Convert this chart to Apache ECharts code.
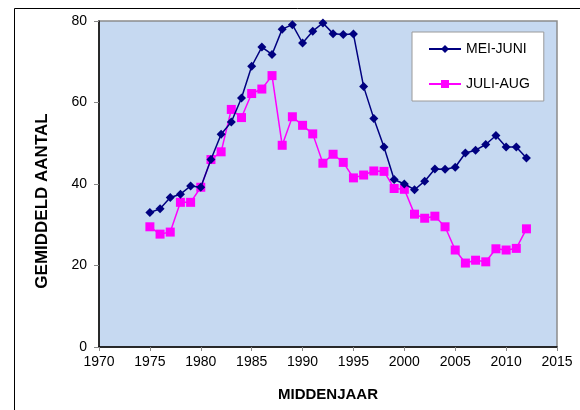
<!DOCTYPE html>
<html>
<head>
<meta charset="utf-8">
<script src="https://cdn.jsdelivr.net/npm/echarts@6/dist/echarts.min.js"></script>
<style>
html,body{margin:0;padding:0;background:#fff;}
#c{width:580px;height:410px;}
</style>
</head>
<body>
<div id="c"></div>
<script>
var years = [1975,1976,1977,1978,1979,1980,1981,1982,1983,1984,1985,1986,1987,1988,1989,1990,1991,1992,1993,1994,1995,1996,1997,1998,1999,2000,2001,2002,2003,2004,2005,2006,2007,2008,2009,2010,2011,2012];
var meiJuni = [33.0,33.9,36.7,37.5,39.5,39.2,46.0,52.2,55.2,61.1,68.9,73.6,71.8,78.0,79.1,74.6,77.5,79.5,76.9,76.7,76.8,63.9,56.1,49.1,41.1,40.0,38.6,40.7,43.7,43.6,44.1,47.6,48.3,49.7,51.9,49.1,49.1,46.4];
var juliAug = [29.5,27.7,28.2,35.5,35.5,39.2,46.0,47.9,58.3,56.3,62.2,63.3,66.6,49.5,56.5,54.4,52.3,45.1,47.3,45.3,41.5,42.2,43.2,43.1,38.9,38.7,32.6,31.6,32.1,29.5,23.8,20.6,21.3,20.9,24.1,23.8,24.2,29.0];
var xTicks = [1970,1975,1980,1985,1990,1995,2000,2005,2010,2015];
var yTicks = [0,20,40,60,80];
var seriesNames = ['MEI-JUNI','JULI-AUG'];

function pairs(xs, ys){ return xs.map(function(x,i){ return [x, ys[i]]; }); }

var chart = echarts.init(document.getElementById('c'), null, {renderer:'canvas'});
var font = 'Arial, "Liberation Sans", sans-serif';
chart.setOption({
  animation:false,
  backgroundColor:'#ffffff',
  graphic:[{
    type:'rect', left:12, top:6, silent:true, z:-10,
    shape:{width:600, height:420},
    style:{fill:'none', stroke:'#000', lineWidth:1}
  }],
  grid:{left:99, right:23, top:21, bottom:63, show:true, backgroundColor:'#C6D9F1', borderColor:'#8C8C8C', borderWidth:1.5},
  legend:{
    orient:'vertical', left:412, top:32, width:129,
    padding:[10,14,10,16], itemGap:21, itemWidth:32, itemHeight:10,
    backgroundColor:'#ffffff', borderColor:'#9a9a9a', borderWidth:1,
    textStyle:{fontFamily:font, fontSize:14, color:'#000'},
    data:seriesNames
  },
  xAxis:{
    type:'value', min:xTicks[0], max:xTicks[xTicks.length-1], interval:5,
    name:'MIDDENJAAR', nameLocation:'middle', nameGap:40,
    nameTextStyle:{fontFamily:font, fontSize:15, fontWeight:'bold', color:'#000'},
    axisLine:{show:true, onZero:false, lineStyle:{color:'#000', width:1.5}},
    axisTick:{show:true, length:4, lineStyle:{color:'#888'}},
    axisLabel:{fontFamily:font, fontSize:14, color:'#000', margin:8,
      formatter:function(v){ return xTicks.indexOf(v)>=0 ? String(v) : ''; }},
    splitLine:{show:false}
  },
  yAxis:{
    type:'value', min:yTicks[0], max:yTicks[yTicks.length-1], interval:20,
    name:'GEMIDDELD AANTAL', nameLocation:'middle', nameGap:48, nameRotate:90,
    nameTextStyle:{fontFamily:font, fontSize:17, fontWeight:'bold', color:'#000', padding:[0,34,0,0]},
    axisLine:{show:true, lineStyle:{color:'#000', width:1.5}},
    axisTick:{show:true, length:5, lineStyle:{color:'#888'}},
    axisLabel:{fontFamily:font, fontSize:14, color:'#000', margin:12},
    splitLine:{show:false}
  },
  series:[
    {name:seriesNames[0], type:'line', data:pairs(years, meiJuni),
     symbol:'diamond', symbolSize:9, showAllSymbol:true,
     lineStyle:{color:'#000080', width:1.5}, itemStyle:{color:'#000080'}, z:3},
    {name:seriesNames[1], type:'line', data:pairs(years, juliAug),
     symbol:'rect', symbolSize:9, showAllSymbol:true,
     lineStyle:{color:'#FF00FF', width:1.5}, itemStyle:{color:'#FF00FF'}, z:2}
  ]
});
</script>
</body>
</html>
